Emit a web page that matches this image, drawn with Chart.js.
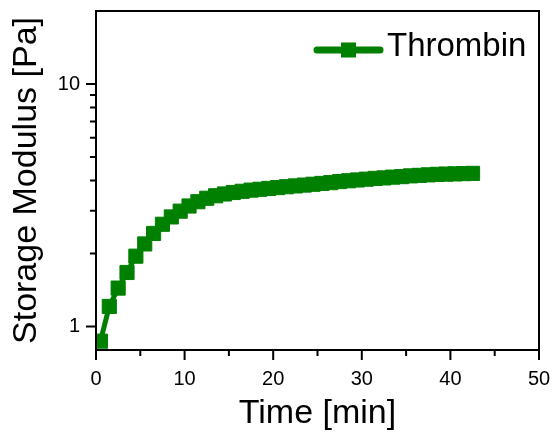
<!DOCTYPE html>
<html>
<head>
<meta charset="utf-8">
<script src="https://cdn.jsdelivr.net/npm/chart.js@4"></script>
<style>
  html, body { margin: 0; padding: 0; background: #fff; }
  canvas { display: block; }
</style>
</head>
<body>
<canvas id="chart" width="556" height="441"></canvas>
<script>
// data
const times = [0.5, 1.5, 2.5, 3.5, 4.5, 5.5, 6.5, 7.5, 8.5, 9.5, 10.5, 11.5, 12.5, 13.5, 14.5,
    15.5, 16.5, 17.5, 18.5, 19.5, 20.5, 21.5, 22.5, 23.5, 24.5, 25.5, 26.5, 27.5, 28.5, 29.5,
    30.5, 31.5, 32.5, 33.5, 34.5, 35.5, 36.5, 37.5, 38.5, 39.5, 40.5, 41.5, 42.5];
const thrombin = [0.87, 1.21, 1.44, 1.67, 1.95, 2.19, 2.42, 2.64, 2.83, 2.99, 3.14, 3.27, 3.38, 3.46, 3.52,
    3.57, 3.61, 3.65, 3.68, 3.71, 3.74, 3.77, 3.80, 3.83, 3.86, 3.89, 3.92, 3.96, 3.99, 4.02,
    4.05, 4.08, 4.10, 4.13, 4.15, 4.18, 4.20, 4.22, 4.24, 4.25, 4.26, 4.27, 4.28];
const xMajor = [0, 10, 20, 30, 40, 50];
const xMinor = [5, 15, 25, 35, 45];
const yMajor = [1, 10];
const yMinor = [2, 3, 4, 5, 6, 7, 8, 9];

const green = '#008000';
const fontFamily = '"Liberation Sans", Arial, sans-serif';

function noPadding(scale) {
    scale.paddingTop = 0;
    scale.paddingBottom = 0;
    scale.paddingLeft = 0;
    scale.paddingRight = 0;
}

// frame, outward ticks and legend
const framePlugin = {
    id: 'frame',
    afterDraw(chart) {
        const ctx = chart.ctx;
        const a = chart.chartArea;
        const xs = chart.scales.x;
        const ys = chart.scales.y;
        ctx.save();
        ctx.strokeStyle = '#000';
        ctx.lineWidth = 2;
        ctx.beginPath();
        xMajor.forEach(v => { const px = xs.getPixelForValue(v); ctx.moveTo(px, a.bottom); ctx.lineTo(px, a.bottom + 10); });
        xMinor.forEach(v => { const px = xs.getPixelForValue(v); ctx.moveTo(px, a.bottom); ctx.lineTo(px, a.bottom + 6); });
        yMajor.forEach(v => { const py = ys.getPixelForValue(v); ctx.moveTo(a.left, py); ctx.lineTo(a.left - 10, py); });
        yMinor.forEach(v => { const py = ys.getPixelForValue(v); ctx.moveTo(a.left, py); ctx.lineTo(a.left - 6, py); });
        ctx.stroke();
        ctx.strokeRect(a.left, a.top, a.right - a.left, a.bottom - a.top);

        // legend
        const ds = chart.data.datasets[0];
        const ly = a.top + 39;
        const lx = a.right - 222;
        ctx.strokeStyle = ds.borderColor;
        ctx.lineWidth = 7;
        ctx.lineCap = 'round';
        ctx.beginPath();
        ctx.moveTo(lx, ly);
        ctx.lineTo(lx + 63, ly);
        ctx.stroke();
        ctx.fillStyle = ds.borderColor;
        ctx.fillRect(lx + 24, ly - 7.5, 15, 15);
        ctx.fillStyle = '#000';
        ctx.font = '33px ' + fontFamily;
        ctx.textBaseline = 'middle';
        ctx.textAlign = 'left';
        ctx.fillText(ds.label, lx + 70, ly - 3);
        ctx.restore();
    }
};

new Chart(document.getElementById('chart'), {
    type: 'line',
    data: {
        labels: times,
        datasets: [{
            label: 'Thrombin',
            data: times.map((t, i) => ({ x: t, y: thrombin[i] })),
            borderColor: green,
            backgroundColor: green,
            borderWidth: 5,
            pointStyle: 'rect',
            pointRadius: 10,
            pointBorderWidth: 1,
            pointBackgroundColor: green,
            pointBorderColor: green,
            tension: 0
        }]
    },
    options: {
        responsive: false,
        animation: false,
        layout: { padding: { top: 10, right: 17, left: 0, bottom: 0 } },
        plugins: { legend: { display: false }, tooltip: { enabled: false } },
        scales: {
            x: {
                type: 'linear',
                min: 0,
                max: 50,
                grid: { display: false, drawTicks: false },
                border: { display: false },
                ticks: { stepSize: 10, padding: 17, color: '#000', font: { family: fontFamily, size: 20 }, maxRotation: 0 },
                title: { display: true, text: 'Time [min]', color: '#000', font: { family: fontFamily, size: 34, lineHeight: 1 }, padding: { top: 0, bottom: 10 } },
                afterFit(scale) { scale.height = 91; noPadding(scale); }
            },
            y: {
                type: 'logarithmic',
                min: 0.8,
                max: 20,
                grid: { display: false, drawTicks: false },
                border: { display: false },
                afterBuildTicks(scale) { scale.ticks = yMajor.map(v => ({ value: v })); },
                ticks: { padding: 16, color: '#000', font: { family: fontFamily, size: 20 }, callback: v => String(v) },
                title: { display: true, text: 'Storage Modulus [Pa]', color: '#000', font: { family: fontFamily, size: 34, lineHeight: 1 }, padding: { top: 10, bottom: 0 } },
                afterFit(scale) { scale.width = 96; noPadding(scale); }
            }
        }
    },
    plugins: [framePlugin]
});
</script>
</body>
</html>
